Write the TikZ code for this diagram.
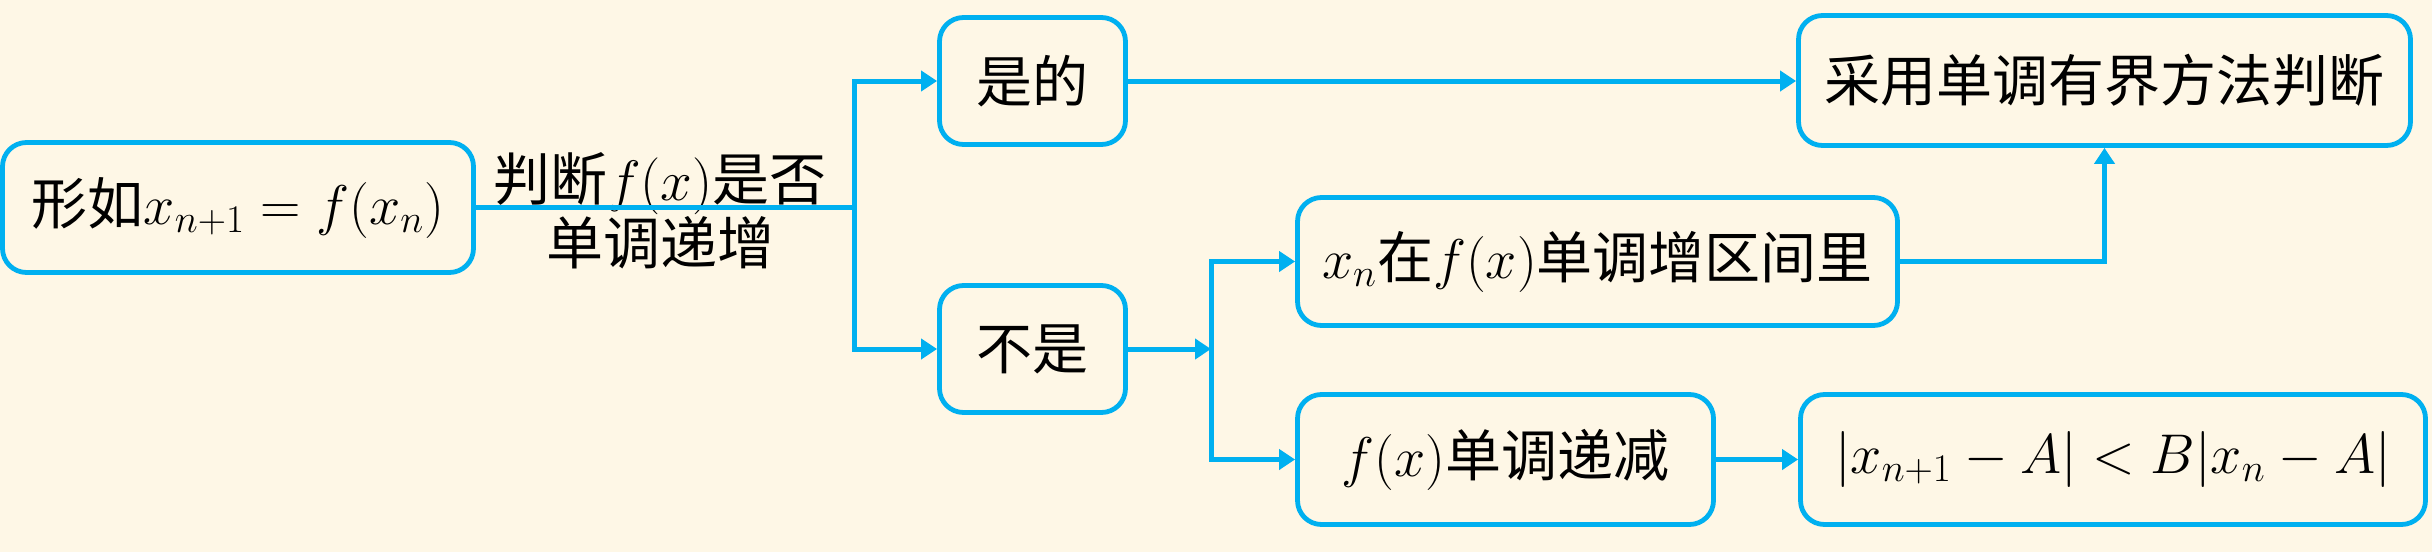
\RequirePackage{fix-cm}
\documentclass[tikz,border=0pt]{standalone}
\usepackage{fontspec}
\newfontfamily\cjk{Noto Sans CJK SC}
\usetikzlibrary{arrows.meta}
\definecolor{bg}{HTML}{FEF7E6}
\definecolor{lb}{HTML}{00B0F0}
\tikzset{
  box/.style={draw=lb, line width=2.4pt, rounded corners=12pt, align=center,
    inner sep=0pt, text=black, font=\cjk\fontsize{28}{32}\selectfont},
  lbl/.style={align=center, inner sep=0pt, text=black,
    font=\cjk\fontsize{28.5}{31}\selectfont},
  conn/.style={draw=lb, line width=2.5pt},
  arr/.style={conn, -{Triangle[length=8pt,width=10pt]}}
}
\begin{document}
\begin{tikzpicture}[x=0.5pt,y=-0.5pt]
\fill[bg] (0,0) rectangle (2432,552);
\useasboundingbox (0,0) rectangle (2432,552);
\node[box, minimum width=235.5pt, minimum height=65pt] (a) at (238,207.5) {形如$x_{n+1}=f(x_n)$};
\node[box, minimum width=93pt, minimum height=63.5pt] (yes) at (1032.5,81) {是的};
\node[box, minimum width=93pt, minimum height=63.5pt] (no) at (1032.5,349) {不是};
\node[box, minimum width=306pt, minimum height=65pt] (use) at (2104.5,80.5) {采用单调有界方法判断};
\node[box, minimum width=300pt, minimum height=64pt] (inc) at (1597.5,261.5) {$x_n$在$f(x)$单调增区间里};
\node[box, minimum width=208pt, minimum height=65pt] (dec) at (1505.5,459.5) {$f(x)$单调递减};
\node[box, minimum width=312.5pt, minimum height=65pt] (ineq) at (2113,459.5) {$|x_{n+1}-A|<B|x_n-A|$};
\node[lbl] (q) at (660,211) {判断$f(x)$是否\\单调递增};
\coordinate (j1) at (854,207.5);
\coordinate (j2) at (1211,349);
\draw[conn] (a.east) -- (j1);
\draw[arr] (j1) |- (yes.west);
\draw[arr] (j1) |- (no.west);
\draw[arr] (yes.east) -- (use.west |- yes.east);
\draw[arr] (no.east) -- (j2);
\draw[arr] (j2) |- (inc.west);
\draw[arr] (j2) |- (dec.west);
\draw[arr] (dec.east) -- (ineq.west |- dec.east);
\draw[arr] (inc.east) -| (use.south);
\end{tikzpicture}
\end{document}
